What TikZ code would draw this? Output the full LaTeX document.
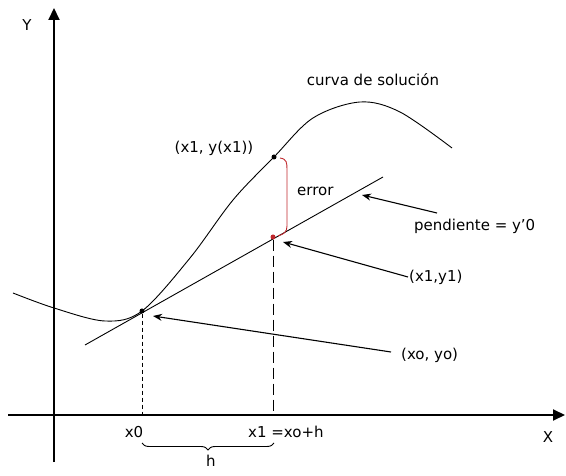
\documentclass[tikz,border=0pt]{standalone}
\usepackage{fontspec}
\setmainfont{DejaVu Sans}
\usepackage{tikz}
\usetikzlibrary{arrows.meta,calc,decorations.pathreplacing}
\definecolor{errc}{HTML}{C0282D}

\begin{document}
\begin{tikzpicture}[x=1pt,y=-1pt,
  lbl/.style={font=\fontsize{15}{18}\selectfont,inner sep=1pt},
  ptdot/.style={circle,fill,inner sep=0pt,minimum size=5pt},
  ptr/.style={line width=1.1pt,-{Stealth[length=9pt,width=7pt]}}]
  \useasboundingbox (0,0) rectangle (566,476);
  % axes
  \coordinate (xa) at (8,415);
  \coordinate (xb) at (565,415);
  \coordinate (ya) at (54,462);
  \coordinate (yb) at (54,8);
  \draw[line width=2pt,-{Triangle[length=12pt,width=11pt]}] (xa) -- (xb);
  \draw[line width=2pt,-{Triangle[length=12pt,width=11pt]}] (ya) -- (yb);
  \node[lbl] (lblY) at (27,25) {Y};
  \node[lbl] (lblX) at (548,437) {X};
  % solution curve and tangent
  \draw[line width=0.9pt] plot[smooth,tension=0.55] coordinates {(13,293) (54,308) (105,321) (142,311) (190,258) (233,200) (274,157) (313,118) (360,102) (400,112) (452,148)};
  \coordinate (tA) at (85,345);
  \coordinate (tB) at (383,177);
  \draw[line width=0.9pt] (tA) -- (tB);
  \node[ptdot] (p0) at (142,311) {};
  \node[ptdot] (p1) at (274,157) {};
  \node[ptdot,errc] (q1) at (273,237) {};
  \draw[line width=0.9pt,dash pattern=on 4pt off 3pt] (p0) -- (p0 |- xa);
  \draw[line width=0.9pt,dash pattern=on 11pt off 5pt] (q1) -- (q1 |- xa);
  % error
  \draw[errc,line width=0.9pt] (280,158) .. controls (287,159) and (287,163) .. (287,170) -- (287,226) .. controls (287,232) and (284,234) .. (278,236);
  \node[lbl,anchor=west] (err) at (296,191) {error};
  % labels
  \node[lbl] (curva) at (373,80) {curva de solución};
  \node[lbl] (yx1) at (214,148) {(x1, y(x1))};
  \node[lbl,anchor=west] (pend) at (413,226) {pendiente = y'0};
  \node[lbl,anchor=west] (xy1) at (408,277) {(x1,y1)};
  \node[lbl,anchor=west] (xy0) at (400,355) {(xo, yo)};
  \coordinate (pendA) at (437,213);
  \coordinate (pendT) at (362,195);
  \coordinate (xy1T) at (283,242);
  \coordinate (xy0A) at (391,352);
  \coordinate (xy0T) at (153,316);
  \draw[ptr] (pendA) -- (pendT);
  \draw[ptr] (xy1.west) -- (xy1T);
  \draw[ptr] (xy0A) -- (xy0T);
  % step h
  \node[lbl] (lx0) at (134,432) {x0};
  \node[lbl,anchor=west] (lx1) at (247,432) {x1 =xo+h};
  \draw[line width=0.9pt,decorate,decoration={brace,amplitude=7pt}] (274,443) -- (142,443);
  \node[lbl] (lh) at (211,461) {h};
\end{tikzpicture}
\end{document}
